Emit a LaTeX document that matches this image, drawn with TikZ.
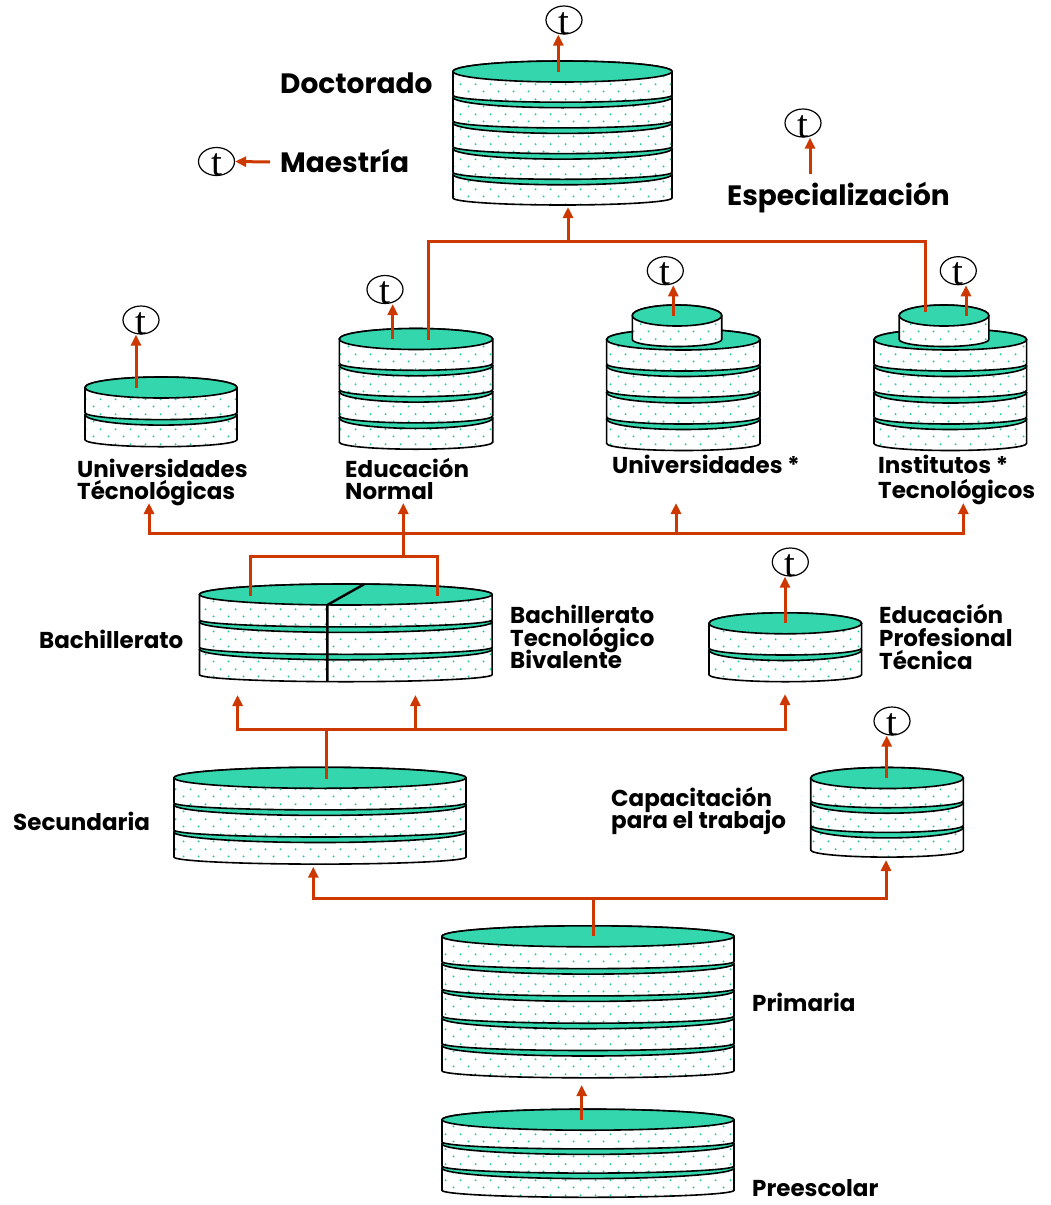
\documentclass[tikz,border=0pt]{standalone}
\usepackage{fontspec}
\newfontfamily\labf{Poppins}
\newfontfamily\tf{Liberation Serif}
\usetikzlibrary{arrows.meta,patterns,calc,shapes.geometric}
\definecolor{teal1}{RGB}{51,214,173}
\definecolor{dotc}{RGB}{35,200,160}
\definecolor{arrc}{RGB}{205,55,0}
\pgfdeclarepatternformonly{mydots}{\pgfqpoint{0pt}{0pt}}{\pgfqpoint{15pt}{15pt}}{\pgfqpoint{15pt}{15pt}}{%
  \pgfpathcircle{\pgfqpoint{3.75pt}{3.75pt}}{1.15pt}%
  \pgfpathcircle{\pgfqpoint{11.25pt}{11.25pt}}{1.15pt}%
  \pgfusepath{fill}}
\tikzset{
  sidefill/.style={draw=black,line width=1.6pt,preaction={fill=white},pattern=mydots,pattern color=dotc},
  topfill/.style={draw=black,line width=1.6pt,fill=teal1},
  conn/.style={draw=arrc,line width=3pt},
  arr/.style={conn,-{Triangle[length=11pt,width=10pt]}},
  tcirc/.style={ellipse,draw=black,line width=1.2pt,minimum width=36pt,minimum height=28pt,inner sep=0pt},
  tlet/.style={anchor=base,inner sep=0pt,font=\tf\fontsize{39}{39}\selectfont},
  big/.style={anchor=base west,inner sep=0pt,font=\labf\bfseries\fontsize{28}{30}\selectfont},
  small/.style={anchor=base west,inner sep=0pt,font=\labf\bfseries\fontsize{23}{25}\selectfont},
}
\newcommand\onedisk[4]{% cx, yc, a, h
  \path[sidefill] ({#1-#3},{#2}) -- ({#1-#3},{#2+#4}) arc[start angle=180,end angle=0,x radius=#3,y radius=7]
     -- ({#1+#3},{#2}) arc[start angle=0,end angle=-180,x radius=#3,y radius=10.5] -- cycle;
  \path[topfill] (#1,#2) ellipse[x radius=#3,y radius=10.5];
}
\newcommand\dstack[5]{% cx, y0, a, n, s
  \pgfmathtruncatemacro\nlast{#4-1}
  \pgfmathsetmacro\hh{#5-2}
  \foreach \k in {\nlast,...,0}{
    \pgfmathsetmacro\yc{#2+\k*#5}
    \onedisk{#1}{\yc}{#3}{\hh}
  }
}
\newcommand\tmark[3]{% name, x, y
  \node[tcirc] (#1) at (#2,#3) {};
  \node[tlet] (#1-l) at ($(#1.center)+(0,14)$) {t};
}
\begin{document}
\begin{tikzpicture}[x=1pt,y=-1pt]
\useasboundingbox (0,0) rectangle (1050,1205);

% ---- stacks ----
\dstack{562.5}{71.5}{109.5}{5}{25.7}   % Doctorado
\dstack{161}{387.5}{76}{2}{27.1}       % Univ. Tecnologicas
\dstack{416}{339}{76.7}{4}{26.3}       % Educacion Normal
\dstack{683.3}{339.5}{76.7}{4}{26.5}   % Universidades
\onedisk{677}{315.5}{44.7}{24}
\dstack{950.3}{339.5}{76.3}{4}{26.5}   % Institutos
\onedisk{944}{315.5}{44.8}{24}
\dstack{345.8}{594.5}{146.3}{3}{27.4}  % Bachillerato
\draw[black,line width=2.4pt] (364.3,584.1) -- (327.4,604.9) -- (327.4,681.6);
\dstack{785.3}{623.3}{76.3}{2}{26.7}   % Ed. Profesional Tecnica
\dstack{320}{777.8}{146}{3}{27.1}      % Secundaria
\dstack{887}{778}{76.3}{3}{24.7}       % Capacitacion
\dstack{588}{936.3}{146}{5}{27.3}      % Primaria
\dstack{588}{1119.7}{146}{3}{24.2}     % Preescolar

% ---- t marks ----
\tmark{tdoc}{564}{20}
\tmark{tmae}{216.5}{161.5}
\tmark{tesp}{803}{123}
\tmark{tut}{141}{320}
\tmark{ten}{385}{289.5}
\tmark{tun}{665.3}{270.7}
\tmark{tit}{958.3}{270.7}
\tmark{tep}{790.3}{562}
\tmark{tcap}{892}{721}

% ---- labels ----
\node[big] (l-doc) at (280,93) {Doctorado};
\node[big] (l-mae) at (280,172) {Maestría};
\node[big] (l-esp) at (727,205) {Especialización};
\node[small] (l-ut1) at (77,477) {Universidades};
\node[small] (l-ut2) at (77,499.5) {Técnológicas};
\node[small] (l-en1) at (345,477) {Educación};
\node[small] (l-en2) at (345,499.5) {Normal};
\node[small] (l-un) at (612,473.5) {Universidades *};
\node[small] (l-it1) at (878,473.5) {Institutos *};
\node[small] (l-it2) at (878,498) {Tecnológicos};
\node[small] (l-ba) at (39,648.5) {Bachillerato};
\node[small] (l-bt1) at (510,623.3) {Bachillerato};
\node[small] (l-bt2) at (510,646) {Tecnológico};
\node[small] (l-bt3) at (510,668.3) {Bivalente};
\node[small] (l-ep1) at (879,623.3) {Educación};
\node[small] (l-ep2) at (879,646) {Profesional};
\node[small] (l-ep3) at (879,669.3) {Técnica};
\node[small] (l-cap1) at (611,806.7) {Capacitación};
\node[small] (l-cap2) at (611,828.3) {para el trabajo};
\node[small] (l-sec) at (13,830.7) {Secundaria};
\node[small] (l-pri) at (752,1011) {Primaria};
\node[small] (l-pre) at (752,1196) {Preescolar};

% ---- connector coordinates ----
\coordinate (doc-top) at (558.3,71.5);
\coordinate (doc-bot) at (568,207);
\coordinate (brk) at (568,241);
\coordinate (en-top2) at (428.3,340);
\coordinate (it-top) at (925,312);
\coordinate (mae-from) at (270,162);
\coordinate (esp-from) at (810,174);
\coordinate (ut-top) at (136,387.5);
\coordinate (en-top) at (392.7,339);
\coordinate (un-top) at (673.3,315.5);
\coordinate (it-top1) at (966,315.5);
\coordinate (j2) at (403.3,533.5);
\coordinate (ut-lab) at (149,503);
\coordinate (en-lab) at (403.3,503);
\coordinate (un-lab) at (676,503);
\coordinate (it-lab) at (963.3,503);
\coordinate (j3) at (403.3,556);
\coordinate (ba-tl) at (250.2,596);
\coordinate (ba-tr) at (437.1,596);
\coordinate (j4) at (326.5,729.5);
\coordinate (sec-top) at (326.5,779);
\coordinate (ba-l) at (237.6,695);
\coordinate (ba-r) at (415.4,695);
\coordinate (ep-bot) at (785,694);
\coordinate (ep-top) at (785,623.3);
\coordinate (cap-top) at (886.7,778);
\coordinate (j5) at (593,898.3);
\coordinate (pri-top) at (593,936.3);
\coordinate (sec-bot) at (313.3,866.7);
\coordinate (cap-bot) at (886,860);
\coordinate (pre-top) at (581.7,1120);
\coordinate (pri-bot) at (581.7,1085);

% ---- connectors ----
\draw[arr] (doc-top) -- (doc-top |- tdoc.south);
\draw[arr] (mae-from) -- (tmae.east);
\draw[arr] (esp-from) -- (esp-from |- tesp.south);
\draw[arr] (brk) -- (doc-bot);
\draw[conn] (en-top2) -- (en-top2 |- brk) -- (brk -| it-top) -- (it-top);
\draw[arr] (ut-top) -- (ut-top |- tut.south);
\draw[arr] (en-top) -- (en-top |- ten.south);
\draw[arr] (un-top) -- (un-top |- tun.south);
\draw[arr] (it-top1) -- (it-top1 |- tit.south);
\draw[arr] (j2) -| (ut-lab);
\draw[arr] (j2) -- (en-lab);
\draw[arr] (j2) -| (un-lab);
\draw[arr] (j2) -| (it-lab);
\draw[conn] (j2) -- (j3);
\draw[conn] (j3) -| (ba-tl);
\draw[conn] (j3) -| (ba-tr);
\draw[conn] (sec-top) -- (j4);
\draw[arr] (j4) -| (ba-l);
\draw[arr] (j4) -| (ba-r);
\draw[arr] (j4) -| (ep-bot);
\draw[arr] (ep-top) -- (ep-top |- tep.south);
\draw[arr] (cap-top) -- (cap-top |- tcap.south);
\draw[conn] (pri-top) -- (j5);
\draw[arr] (j5) -| (sec-bot);
\draw[arr] (j5) -| (cap-bot);
\draw[arr] (pre-top) -- (pri-bot);
\end{tikzpicture}
\end{document}
